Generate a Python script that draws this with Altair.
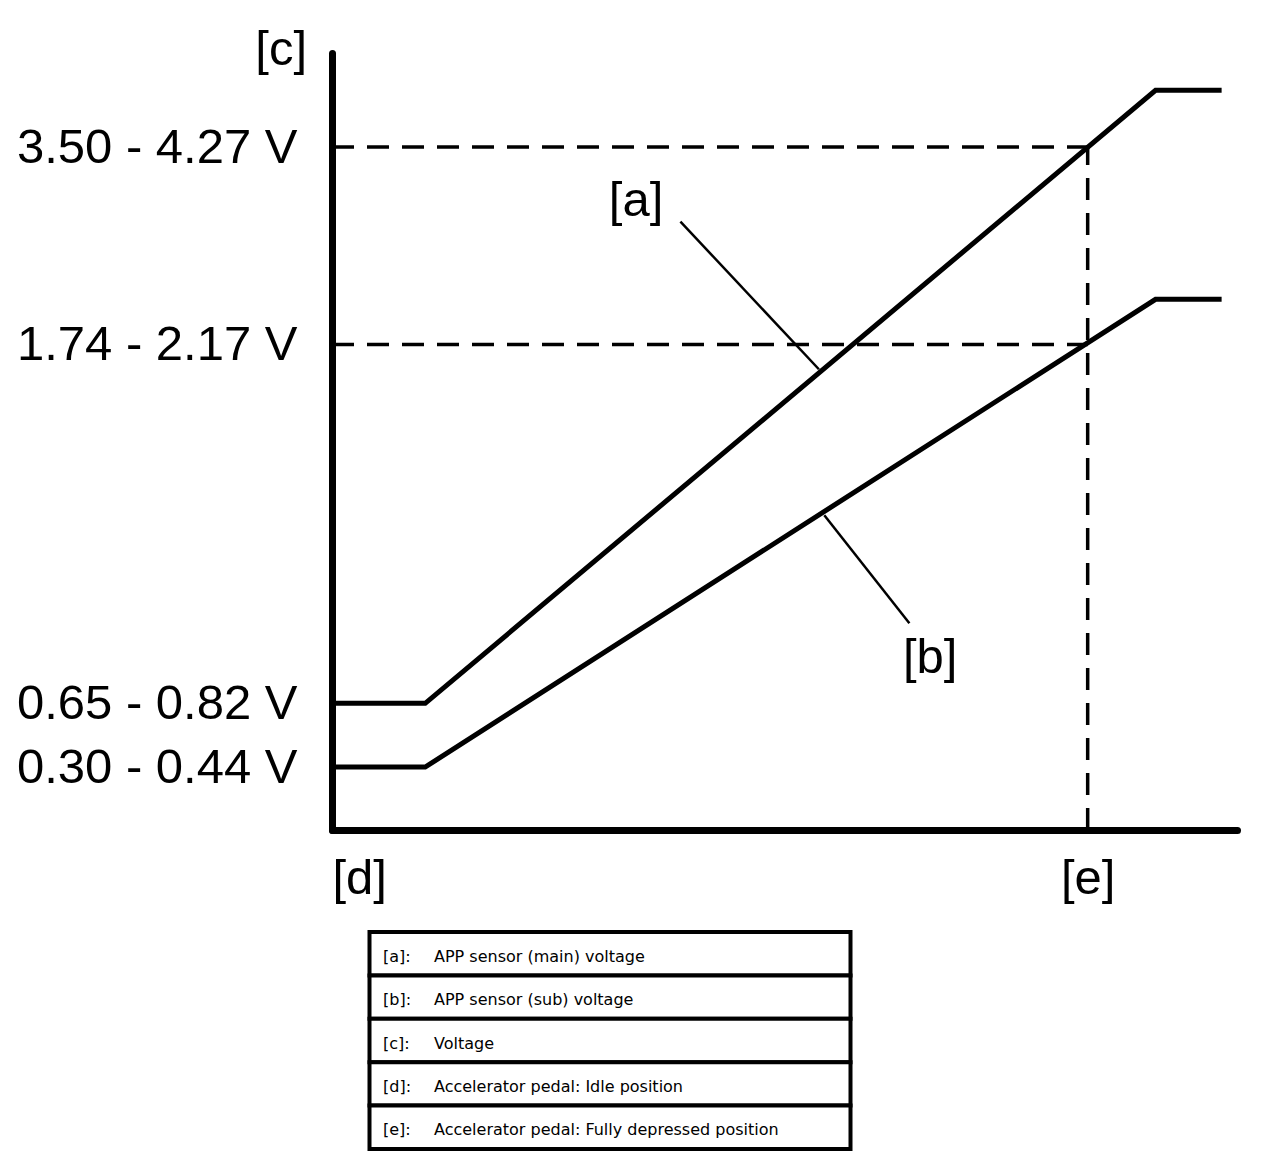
import altair as alt
import pandas as pd

# ---------------- data ----------------
# pedal travel in % of plot width, sensor level in % of plot height
pedal_pos = [0.0, 10.3, 91.0, 98.3]
main_level = [16.3, 16.3, 95.2, 95.2]   # [a] APP sensor (main)
sub_level = [8.1, 8.1, 68.3, 68.3]      # [b] APP sensor (sub)

full_pos = 83.5        # [e] fully depressed position
main_full = 87.9       # main level at [e]
sub_full = 62.5        # sub level at [e]

tick_levels = [8.1, 16.3, 62.5, 87.9]
tick_labels = ["0.30 - 0.44 V", "0.65 - 0.82 V", "1.74 - 2.17 V", "3.50 - 4.27 V"]

x_marks = [3.0, 83.5]
x_labels = ["[d]", "[e]"]

callout_names = ["[a]", "[b]"]
callout_text_x = [33.6, 66.1]
callout_text_y = [81.0, 22.1]
callout_from_x = [38.5, 54.4]
callout_from_y = [78.3, 40.5]
callout_to_x = [53.8, 63.8]
callout_to_y = [59.3, 26.6]

legend_keys = ["[a]:", "[b]:", "[c]:", "[d]:", "[e]:"]
legend_desc = [
    "APP sensor (main) voltage",
    "APP sensor (sub) voltage",
    "Voltage",
    "Accelerator pedal: Idle position",
    "Accelerator pedal: Fully depressed position",
]

# ---------------- layout ----------------
W, H = 905, 777
PAD_L, PAD_T = 324, 45
PLOT_X0 = 8 + PAD_L
PLOT_Y0 = 8 + PAD_T + H


def px_x(px):
    return (px - PLOT_X0) / W * 100.0


def px_y(py):
    return (PLOT_Y0 - py) / H * 100.0


LABEL_FONT = "Liberation Sans"
LABEL_SIZE = 49
TABLE_FONT = "DejaVu Sans"
TABLE_SIZE = 16

xscale = alt.Scale(domain=[0, 100], nice=False, zero=False)
yscale = alt.Scale(domain=[0, 100], nice=False, zero=False)

y_expr = " : ".join(
    f"datum.value == {v} ? '{t}'" for v, t in zip(tick_levels, tick_labels)
) + " : ''"
x_expr = " : ".join(
    f"datum.value == {v} ? '{t}'" for v, t in zip(x_marks, x_labels)
) + " : ''"

x_axis = alt.Axis(
    values=x_marks, labelExpr=x_expr, title=None, grid=False, ticks=False,
    tickSize=0, domainWidth=7, domainColor="black", domainCap="round",
    labelFont=LABEL_FONT, labelFontSize=LABEL_SIZE, labelColor="black",
    labelPadding=48, labelBaseline="middle", labelAlign="center",
    labelFlush=False, labelOverlap=False, labelLimit=0,
)
y_axis = alt.Axis(
    values=tick_levels, labelExpr=y_expr, title=None, grid=False, ticks=False,
    tickSize=0, domainWidth=7, domainColor="black", domainCap="round",
    labelFont=LABEL_FONT, labelFontSize=LABEL_SIZE, labelColor="black",
    labelPadding=35, labelBaseline="middle", labelAlign="right",
    labelFlush=False, labelOverlap=False, labelLimit=0,
)


def X(field):
    return alt.X(f"{field}:Q", scale=xscale, axis=x_axis)


def Y(field):
    return alt.Y(f"{field}:Q", scale=yscale, axis=y_axis)


# ---------------- frames ----------------
curves = pd.DataFrame({
    "series": ["a"] * 4 + ["b"] * 4,
    "x": pedal_pos + pedal_pos,
    "y": main_level + sub_level,
})

hguides = pd.DataFrame({"x": [0.0, 0.0], "x2": [full_pos, full_pos],
                        "y": [main_full, sub_full]})
vguide = pd.DataFrame({"x": [full_pos], "y": [0.0], "y2": [main_full]})

callouts = pd.DataFrame({
    "name": callout_names,
    "tx": callout_text_x, "ty": callout_text_y,
    "x": callout_from_x, "y": callout_from_y,
    "x2": callout_to_x, "y2": callout_to_y,
})

ylabel = pd.DataFrame({"x": [0.0], "y": [100.0], "t": ["[c]"]})

# legend table
T_LEFT, T_RIGHT, T_TOP, ROW_H = 369.5, 850.5, 932.0, 43.4
rows = []
for i, (k, d) in enumerate(zip(legend_keys, legend_desc)):
    top = T_TOP + i * ROW_H
    bot = top + ROW_H
    mid = (top + bot) / 2 + 3
    rows.append({
        "x": px_x(T_LEFT), "x2": px_x(T_RIGHT),
        "y": px_y(top), "y2": px_y(bot),
        "kx": px_x(383), "dx": px_x(434), "ty": px_y(mid),
        "key": k, "desc": d,
    })
table = pd.DataFrame(rows)

# ---------------- layers ----------------
dash = [22, 13]

h_layer = alt.Chart(hguides).mark_rule(
    color="black", strokeWidth=3.5, strokeDash=dash
).encode(x=X("x"), x2="x2:Q", y=Y("y"))

v_layer = alt.Chart(vguide).mark_rule(
    color="black", strokeWidth=3.5, strokeDash=dash
).encode(x=X("x"), y=Y("y"), y2="y2:Q")

leader_layer = alt.Chart(callouts).mark_rule(
    color="black", strokeWidth=2.5
).encode(x=X("x"), y=Y("y"), x2="x2:Q", y2="y2:Q")

line_layer = alt.Chart(curves).mark_line(
    color="black", strokeWidth=5, strokeJoin="miter"
).encode(x=X("x"), y=Y("y"), detail="series:N")

callout_text = alt.Chart(callouts).mark_text(
    font=LABEL_FONT, fontSize=LABEL_SIZE, color="black",
    align="center", baseline="middle"
).encode(x=X("tx"), y=Y("ty"), text="name:N")

c_text = alt.Chart(ylabel).mark_text(
    font=LABEL_FONT, fontSize=LABEL_SIZE, color="black",
    align="right", baseline="middle", dx=-25, dy=-3
).encode(x=X("x"), y=Y("y"), text="t:N")

table_rects = alt.Chart(table).mark_rect(
    fill="white", stroke="black", strokeWidth=4
).encode(x=X("x"), x2="x2:Q", y=Y("y"), y2="y2:Q")

table_keys = alt.Chart(table).mark_text(
    font=TABLE_FONT, fontSize=TABLE_SIZE, color="black",
    align="left", baseline="middle"
).encode(x=X("kx"), y=Y("ty"), text="key:N")

table_desc = alt.Chart(table).mark_text(
    font=TABLE_FONT, fontSize=TABLE_SIZE, color="black",
    align="left", baseline="middle"
).encode(x=X("dx"), y=Y("ty"), text="desc:N")

chart = alt.layer(
    h_layer, v_layer, leader_layer, line_layer, callout_text, c_text,
    table_rects, table_keys, table_desc,
).properties(
    width=W, height=H,
    autosize=alt.AutoSizeParams(type="none"),
    padding={"left": PAD_L, "top": PAD_T, "right": 19, "bottom": 325},
    background="white",
).configure_view(stroke=None)

chart.save("out.html", embed_options={"renderer": "svg", "actions": False})
